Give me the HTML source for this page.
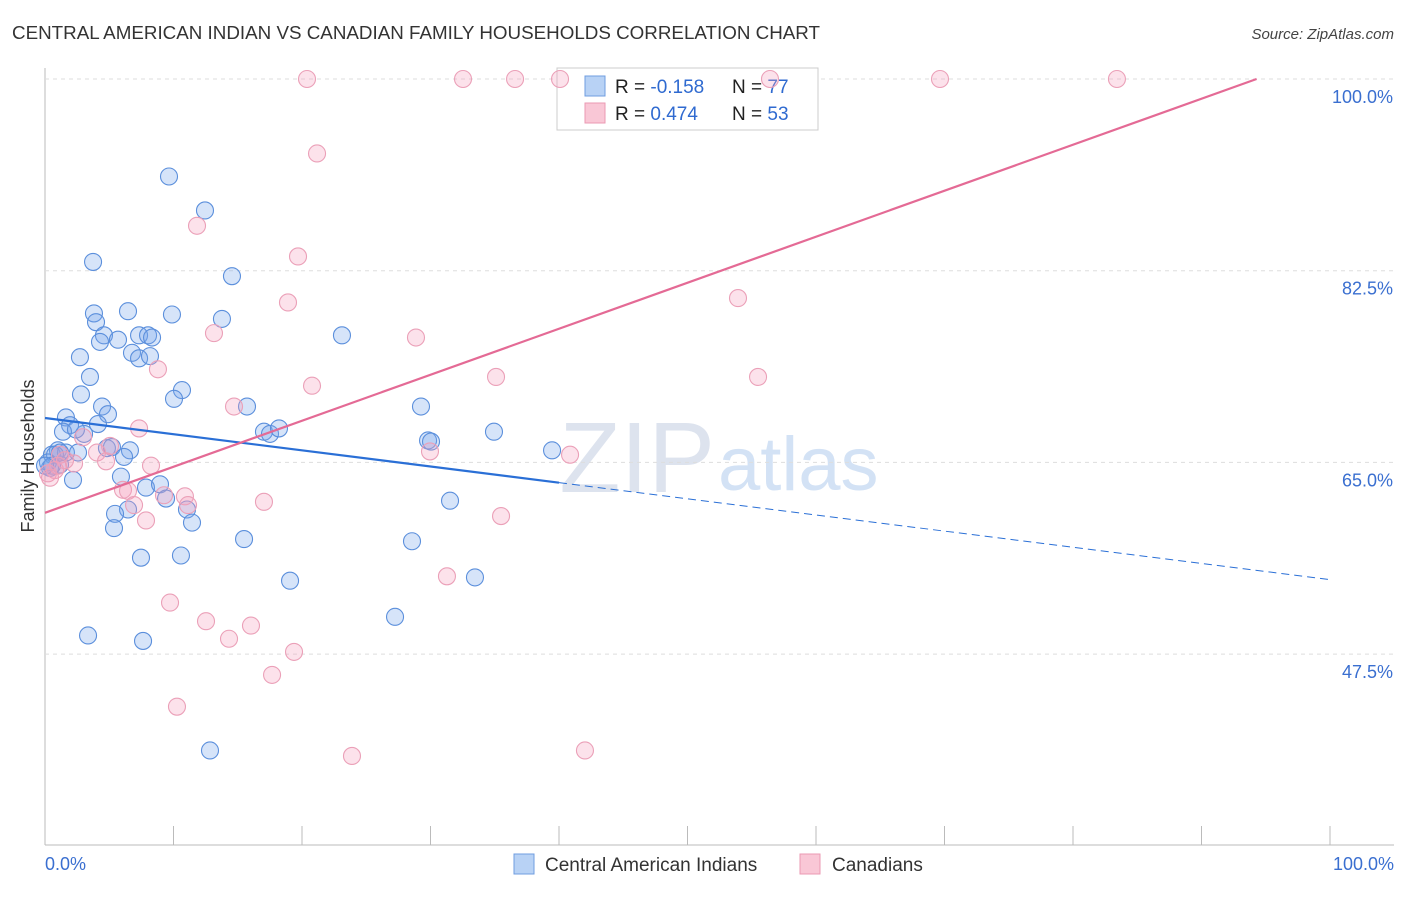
<!DOCTYPE html>
<html><head><meta charset="utf-8"><style>
body{margin:0;background:#fff;font-family:"Liberation Sans",sans-serif}
svg text{font-family:"Liberation Sans",sans-serif}
</style></head><body>
<svg id="chart" width="1406" height="892" xmlns="http://www.w3.org/2000/svg">
<text x="12" y="39" font-size="18" fill="#333" textLength="808" lengthAdjust="spacingAndGlyphs">CENTRAL AMERICAN INDIAN VS CANADIAN FAMILY HOUSEHOLDS CORRELATION CHART</text>
<text x="1394" y="39" font-size="15" fill="#444" text-anchor="end" font-style="italic">Source: ZipAtlas.com</text>
<text x="715" y="492" font-size="100" fill="#dde3ee" text-anchor="end" font-family="Liberation Serif">ZIP</text>
<text x="718" y="490" font-size="76" fill="#d3e2f5">atlas</text>
<g id="grid"></g>
<g>
<rect x="557" y="68" width="261" height="62" fill="#fff" stroke="#ccc"/>
<rect x="585" y="76" width="20" height="20" fill="#b8d2f5" stroke="#6f9de0"/>
<rect x="585" y="103" width="20" height="20" fill="#f9c7d6" stroke="#eb9ab3"/>
<text x="615" y="93" font-size="19" fill="#222">R = <tspan fill="#2f6ad0">-0.158</tspan></text>
<text x="732" y="93" font-size="19" fill="#222">N = <tspan fill="#2f6ad0">77</tspan></text>
<text x="615" y="120" font-size="19" fill="#222">R = <tspan fill="#2f6ad0"> 0.474</tspan></text>
<text x="732" y="120" font-size="19" fill="#222">N = <tspan fill="#2f6ad0">53</tspan></text>
</g>
<g id="marks"></g>
<g id="lines"></g>
<text transform="translate(34,456) rotate(-90)" font-size="18" fill="#333" text-anchor="middle">Family Households</text>
<text x="45" y="870" font-size="18" fill="#3a6fd0">0.0%</text>
<text x="1394" y="870" font-size="18" fill="#3a6fd0" text-anchor="end">100.0%</text>
<g>
<rect x="514" y="854" width="20" height="20" fill="#b8d2f5" stroke="#6f9de0"/>
<text x="545" y="871" font-size="19" fill="#333">Central American Indians</text>
<rect x="800" y="854" width="20" height="20" fill="#f9c7d6" stroke="#eb9ab3"/>
<text x="832" y="871" font-size="19" fill="#333">Canadians</text>
</g>
</svg>
<script>
const yTicks=[100,82.5,65,47.5];
const yTickLabels=["100.0%","82.5%","65.0%","47.5%"];
const blueX=[9.65,12.45,3.74,14.55,3.81,3.97,6.46,9.88,13.77,4.59,4.28,5.68,7.32,8.02,8.33,23.11,6.77,7.32,8.17,2.72,3.5,10.66,10.04,2.8,4.44,4.9,15.72,29.26,1.63,1.95,4.12,1.4,3.04,2.41,17.04,17.51,18.21,34.94,29.81,30.04,1.01,0.54,1.63,2.57,4.82,5.21,6.61,6.15,39.46,1.17,0.39,2.18,5.91,7.86,8.95,9.42,31.52,6.46,5.45,11.05,11.44,5.37,15.49,28.56,7.47,10.58,33.46,19.07,27.24,3.35,7.63,12.84,0.78,0.23,1.17,0.54,0.0];
const blueY=[91.1,88.0,83.3,82.0,78.6,77.8,78.8,78.5,78.1,76.6,76.0,76.2,76.6,76.6,76.4,76.6,75.0,74.5,74.7,74.6,72.8,71.6,70.8,71.2,70.1,69.4,70.1,70.1,69.1,68.4,68.5,67.8,67.6,68.0,67.8,67.6,68.1,67.8,67.0,66.9,66.1,65.7,65.9,65.9,66.3,66.4,66.1,65.5,66.1,64.8,64.5,63.4,63.7,62.7,63.0,61.7,61.5,60.7,60.3,60.7,59.5,59.0,58.0,57.8,56.3,56.5,54.5,54.2,50.9,49.2,48.7,38.7,65.7,65.0,65.9,64.7,64.7];
const pinkX=[20.39,32.53,36.58,40.08,56.42,69.65,83.42,21.17,11.83,19.69,18.91,53.93,13.15,28.87,8.79,20.78,35.1,55.49,14.71,7.32,2.96,5.06,4.05,29.96,40.86,4.75,8.25,2.26,0.78,0.23,6.07,6.46,10.89,9.26,11.13,17.04,6.93,7.86,35.49,31.28,9.73,12.53,16.03,14.32,19.38,17.67,10.27,23.89,42.02,1.17,1.56,1.01,0.39];
const pinkY=[100,100,100,100,100,100,100,93.2,86.6,83.8,79.6,80.0,76.8,76.4,73.5,72.0,72.8,72.8,70.1,68.1,67.3,66.5,65.9,66.0,65.7,65.1,64.7,64.9,64.3,64.0,62.5,62.4,61.9,62.0,61.1,61.4,61.1,59.7,60.1,54.6,52.2,50.5,50.1,48.9,47.7,45.6,42.7,38.2,38.7,65.7,65.2,64.7,63.6];
const blueTrend=[69.05,54.3];
const pinkTrend=[60.4,0.42];
const NS="http://www.w3.org/2000/svg";
const X0=45,X1=1330,Y100=79,PXPER=10.954;
function sx(v){return X0+v*(X1-X0)/100;}
function sy(v){return Y100+(100-v)*PXPER;}
function mk(tag,attrs,parent){const e=document.createElementNS(NS,tag);for(const k in attrs)e.setAttribute(k,attrs[k]);parent.appendChild(e);return e;}
const grid=document.getElementById('grid');
const ax=mk('line',{x1:45,y1:68,x2:45,y2:845,stroke:'#bbb'},grid);


const bx=mk('line',{x1:45,y1:845,x2:1394,y2:845,stroke:'#bbb'},grid);


for(let i=0;i<=10;i++){const t=mk('line',{x1:sx(i*10),x2:sx(i*10),y1:826,y2:845,stroke:'#bbb'},grid);

}
yTicks.forEach((v,i)=>{const g=mk('line',{x1:45,x2:1394,y1:sy(v),y2:sy(v),stroke:'#ddd','stroke-dasharray':'4,4'},grid);


const t=mk('text',{x:1393,y:sy(v)+24,'font-size':18,fill:'#3a6fd0','text-anchor':'end'},grid);t.textContent=yTickLabels[i];

});
const marks=document.getElementById('marks');
blueX.forEach((x,i)=>{const c=mk('circle',{cx:sx(x),cy:sy(blueY[i]),r:8.5,fill:'rgba(120,165,235,0.3)',stroke:'#5b8fdc','stroke-width':1.1},marks);

});
pinkX.forEach((x,i)=>{const c=mk('circle',{cx:sx(x),cy:sy(pinkY[i]),r:8.5,fill:'rgba(245,160,190,0.3)',stroke:'#eba0b8','stroke-width':1.1},marks);

});
const lines=document.getElementById('lines');
const bslope=(blueTrend[1]-blueTrend[0])/100;
const b1=mk('line',{x1:sx(0),y1:sy(blueTrend[0]),x2:sx(40),y2:sy(blueTrend[0]+bslope*40),stroke:'#2a6fd6','stroke-width':2.2},lines);


const b2=mk('line',{x1:sx(40),y1:sy(blueTrend[0]+bslope*40),x2:sx(100),y2:sy(blueTrend[1]),stroke:'#2a6fd6','stroke-width':1,'stroke-dasharray':'8,5'},lines);


const pEnd=(100-pinkTrend[0])/pinkTrend[1];
const p1=mk('line',{x1:sx(0),y1:sy(pinkTrend[0]),x2:sx(pEnd),y2:sy(100),stroke:'#e46a95','stroke-width':2.2},lines);


</script>
</body></html>
